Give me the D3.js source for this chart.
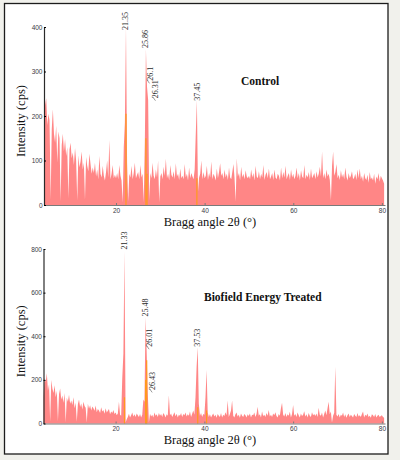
<!DOCTYPE html>
<html>
<head>
<meta charset="utf-8">
<script src="https://cdn.jsdelivr.net/npm/d3@7"></script>
<style>
    body { margin: 0; background: #f1f1ec; }
    svg { display: block; }
</style>
</head>
<body>
<div id="xrd-chart"></div>
<script>
// scan grid: 3.75 deg to 80.5 deg, one reading every 0.25 deg
const angleStart = 3.75;
const angleStep = 0.25;

const controlCounts = [
    150, 225, 240, 180, 205,
    190, 12, 170, 215, 160, 140, 178, 95, 165, 150, 8, 135, 160, 120, 148, 110, 130, 15, 125, 140,
    105, 118, 90, 128, 100, 10, 112, 85, 98, 120, 80, 95, 12, 108, 88, 76, 115, 92, 70, 84,
    72, 95, 64, 80, 58, 110, 70, 62, 88, 66, 55, 74, 100, 62, 146, 58, 70, 90, 60, 68,
    60, 72, 58, 90, 66, 55, 5, 130, 185, 400, 95, 8, 70, 62, 88, 58, 72, 95, 60, 68,
    74, 58, 90, 62, 70, 5, 140, 350, 265, 236, 10, 72, 60, 95, 66, 58, 80, 62, 100, 6,
    64, 72, 58, 86, 66, 104, 60, 70, 55, 90, 68, 62, 76, 58, 94, 64, 70, 56, 82, 60,
    66, 58, 92, 62, 70, 55, 84, 60, 72, 64, 58, 80, 160, 236, 30, 62, 70, 100, 58, 74,
    60, 66, 88, 56, 72, 62, 98, 58, 70, 64, 55, 82, 60, 74, 94, 66, 72, 58, 80, 62,
    70, 56, 84, 62, 58, 75, 92, 60, 8, 105, 64, 72, 55, 86, 62, 70, 58, 78, 64, 60,
    66, 58, 80, 62, 72, 55, 88, 64, 60, 76, 58, 70, 62, 90, 56, 68, 74, 60, 82, 58,
    64, 72, 56, 80, 62, 58, 70, 66, 55, 84, 60, 74, 62, 88, 58, 66, 72, 56, 80, 62,
    70, 58, 66, 84, 60, 72, 55, 78, 64, 60, 90, 58, 68, 62, 74, 56, 82, 60, 66, 72,
    58, 76, 62, 70, 86, 64, 120, 60, 72, 58, 80, 64, 70, 56, 10, 88, 120, 66, 74, 92,
    60, 68, 56, 78, 62, 70, 58, 84, 64, 55, 72, 60, 66, 76, 58, 62, 70, 56, 80, 60,
    82, 58, 66, 52, 72, 60, 56, 68, 50, 74, 58, 62, 55, 70, 48, 64, 58, 72, 52, 66,
    60, 55, 48
];

const treatedCounts = [
    120, 210, 190, 230, 150,
    180, 8, 200, 160, 140, 175, 120, 150, 10, 135, 160, 110, 128, 95, 140, 5, 118, 100, 132, 90,
    105, 85, 120, 70, 95, 8, 88, 110, 76, 92, 64, 100, 80, 72, 5, 90, 68, 84, 60, 78,
    70, 58, 82, 52, 66, 60, 48, 75, 55, 62, 45, 70, 50, 58, 66, 42, 55, 48, 62, 44,
    50, 38, 46, 100, 40, 35, 210, 320, 790, 5, 20, 30, 45, 28, 38, 50, 32, 42, 30, 46,
    38, 30, 44, 28, 40, 110, 100, 487, 326, 138, 5, 45, 32, 40, 28, 50, 35, 42, 30, 48,
    36, 44, 30, 48, 40, 28, 42, 35, 130, 38, 46, 30, 40, 52, 33, 45, 28, 40, 36, 48,
    30, 44, 38, 50, 32, 42, 36, 55, 30, 45, 60, 40, 120, 260, 350, 90, 35, 48, 30, 44,
    40, 120, 245, 50, 30, 42, 28, 38, 46, 32, 40, 26, 44, 35, 30, 48, 28, 40, 34, 52,
    38, 105, 30, 44, 60, 105, 36, 28, 42, 50, 32, 40, 26, 46, 35, 30, 44, 38, 28, 42,
    34, 46, 28, 40, 38, 50, 30, 44, 77, 36, 42, 28, 55, 34, 40, 30, 48, 36, 62, 32,
    40, 30, 46, 38, 52, 34, 28, 44, 36, 70, 95, 40, 32, 48, 30, 42, 36, 54, 28, 44,
    85, 36, 44, 30, 50, 38, 28, 46, 34, 40, 56, 32, 42, 28, 48, 36, 30, 52, 38, 44,
    34, 46, 30, 72, 40, 36, 50, 28, 44, 60, 38, 70, 100, 42, 55, 5, 36, 48, 260, 40,
    32, 44, 28, 40, 36, 50, 30, 42, 26, 38, 46, 30, 40, 34, 28, 44, 36, 30, 48, 32,
    38, 30, 44, 55, 28, 40, 34, 46, 30, 36, 26, 42, 38, 30, 44, 28, 36, 40, 30, 34,
    38, 30, 26
];

// orange overlay lines at the main reflections
const controlOrangeAngles = [22.25, 26.75, 27.0, 38.25];
const controlOrangeCounts = [205, 150, 70, 60];
const treatedOrangeAngles = [22.0, 26.75, 27.0, 38.5, 40.5];
const treatedOrangeCounts = [120, 200, 290, 75, 60];

// peak annotations
const controlPeakLabels = ["21.35", "25.86", "26.1", "26.31", "37.45"];
const controlLabelAngles = [22.03, 26.65, 27.67, 29.02, 38.38];
const controlLabelCounts = [393, 353, 279, 240, 234];
const controlLeaders = [false, false, true, true, false];

const treatedPeakLabels = ["21.33", "25.48", "26.01", "26.43", "37.53"];
const treatedLabelAngles = [22.03, 26.65, 27.67, 28.35, 38.38];
const treatedLabelCounts = [798, 490, 352, 154, 352];
const treatedLeaders = [false, false, true, true, false];

const xTicks = [20, 40, 60, 80];
const controlYTicks = [0, 100, 200, 300, 400];
const treatedYTicks = [0, 200, 400, 600, 800];

const width = 400;
const height = 460;

const salmon = "#ff8686";
const orange = "#ff9a1c";
const serif = "'Liberation Serif', 'Times New Roman', serif";

const svg = d3.select("#xrd-chart")
    .append("svg")
    .attr("width", width)
    .attr("height", height);

svg
    .append("rect")
    .attr("x", 4.5)
    .attr("y", 3.5)
    .attr("width", 383.5)
    .attr("height", 450.5)
    .attr("fill", "#ffffff")
    .attr("stroke", "#1c1c1c")
    .attr("stroke-width", 1.3);

const drawPanel = (p) => {

    const xScale = d3.scaleLinear()
        .domain([3.75, 80.7])
        .range([p.left, 385]);

    const yScale = d3.scaleLinear()
        .domain([0, p.yMax])
        .range([p.bottom, p.top]);

    const points = p.counts.map((c, i) => [angleStart + i * angleStep, c]);

    const areaGenerator = d3.area()
        .x(d => xScale(d[0]))
        .y0(yScale(0))
        .y1(d => yScale(d[1]));

    svg
        .append("path")
        .attr("d", areaGenerator(points))
        .attr("fill", salmon);

    svg
        .append("g")
        .selectAll("line")
        .data(p.orangeAngles)
        .join("line")
            .attr("x1", d => xScale(d))
            .attr("x2", d => xScale(d))
            .attr("y1", yScale(0))
            .attr("y2", (d, i) => yScale(p.orangeCounts[i]))
            .attr("stroke", orange)
            .attr("stroke-width", 1.2);

    //X axis
    const bottomAxis = d3.axisBottom(xScale)
        .tickValues(xTicks)
        .tickSize(-2)
        .tickSizeOuter(0)
        .tickPadding(3);

    const xAxis = svg
        .append("g")
        .attr("transform", `translate(0, ${p.bottom})`)
        .call(bottomAxis);

    xAxis.select(".domain").attr("stroke", "#7a7a7a");
    xAxis.selectAll(".tick line").attr("stroke", "#7a7a7a");

    //Y axis
    const leftAxis = d3.axisLeft(yScale)
        .tickValues(p.yTicks)
        .tickSize(-2)
        .tickSizeOuter(0)
        .tickPadding(1.5);

    const yAxis = svg
        .append("g")
        .attr("transform", `translate(${p.left}, 0)`)
        .call(leftAxis);

    yAxis.select(".domain")
        .attr("stroke", "#2a2a2a")
        .attr("stroke-width", 1.2);

    svg.selectAll(".tick text")
        .style("font-family", "'Liberation Sans', Arial, sans-serif")
        .style("font-size", "6.5px")
        .attr("fill", "#3a3a44");

    // peak labels
    p.labels.forEach((label, i) => {
        const tx = xScale(p.labelAngles[i]);
        const by = yScale(p.labelCounts[i]);
        svg
            .append("text")
            .text(label)
            .attr("transform", `translate(${tx}, ${by}) rotate(-90)`)
            .attr("text-anchor", "start")
            .attr("dominant-baseline", "central")
            .style("font-family", serif)
            .style("font-size", "8px")
            .attr("fill", "#2a2a2a");
        if (p.leaders[i]) {
            svg
                .append("line")
                .attr("x1", tx - 3)
                .attr("y1", by - 1)
                .attr("x2", tx - 0.5)
                .attr("y2", by + 2.5)
                .attr("stroke", "#555")
                .attr("stroke-width", 0.6);
        }
    });

    svg
        .append("text")
        .text("Intensity (cps)")
        .attr("transform", `translate(21, ${(p.top + p.bottom) / 2 + 5}) rotate(-90)`)
        .attr("text-anchor", "middle")
        .attr("dominant-baseline", "central")
        .style("font-family", serif)
        .style("font-size", "12.5px")
        .attr("fill", "#111");

    svg
        .append("text")
        .text("Bragg angle 2θ (°)")
        .attr("x", 210)
        .attr("y", p.bottom + 20.5)
        .attr("text-anchor", "middle")
        .style("font-family", serif)
        .style("font-size", "12.5px")
        .attr("fill", "#111");

    svg
        .append("text")
        .text(p.title)
        .attr("x", p.titleX)
        .attr("y", p.titleY)
        .style("font-family", serif)
        .style("font-weight", "bold")
        .style("font-size", "11.5px")
        .attr("fill", "#111");
};

drawPanel({
    counts: controlCounts,
    orangeAngles: controlOrangeAngles,
    orangeCounts: controlOrangeCounts,
    labels: controlPeakLabels,
    labelAngles: controlLabelAngles,
    labelCounts: controlLabelCounts,
    leaders: controlLeaders,
    yMax: 400,
    yTicks: controlYTicks,
    top: 27,
    bottom: 205,
    left: 44,
    title: "Control",
    titleX: 241,
    titleY: 85
});

drawPanel({
    counts: treatedCounts,
    orangeAngles: treatedOrangeAngles,
    orangeCounts: treatedOrangeCounts,
    labels: treatedPeakLabels,
    labelAngles: treatedLabelAngles,
    labelCounts: treatedLabelCounts,
    leaders: treatedLeaders,
    yMax: 800,
    yTicks: treatedYTicks,
    top: 249,
    bottom: 423.5,
    left: 43.5,
    title: "Biofield Energy Treated",
    titleX: 204,
    titleY: 301
});
</script>
</body>
</html>
